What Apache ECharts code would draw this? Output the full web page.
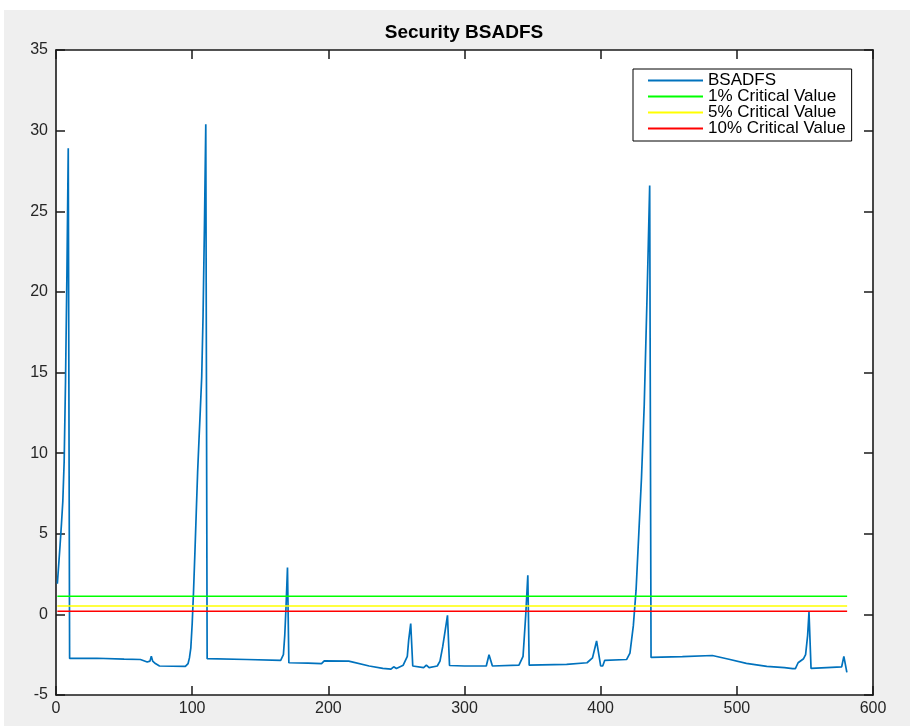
<!DOCTYPE html>
<html>
<head>
<meta charset="utf-8">
<script src="https://cdn.jsdelivr.net/npm/echarts@6/dist/echarts.min.js"></script>
<style>
  html, body { margin: 0; padding: 0; background: #ffffff; }
  #chart { width: 910px; height: 726px; }
</style>
</head>
<body>
<div id="chart"></div>
<script>
// ---- Data ----
const titleText = 'Security BSADFS';
const seriesNames = ['BSADFS', '1% Critical Value', '5% Critical Value', '10% Critical Value'];
const xTicks = [0, 100, 200, 300, 400, 500, 600];
const yTicks = [-5, 0, 5, 10, 15, 20, 25, 30, 35];

const bsadfsX = [
  1, 2, 3, 4, 5, 6, 7, 8, 9, 10,
  30, 50, 62, 67, 69, 70, 71, 73, 76, 95,
  97, 98, 99, 100, 101, 102, 103, 104, 105, 106, 107, 108, 109, 110, 111,
  140, 165, 166, 167, 168, 169, 170, 171,
  185, 195, 197, 215, 230, 240, 246, 248, 250, 255, 258, 259, 260.5, 262,
  270, 272, 274, 280, 282, 284, 286, 287.5, 289,
  300, 316, 318, 319, 320.5, 340, 343, 345, 346.5, 347.5,
  375, 390, 394, 397, 400, 401.5, 403, 419, 421.5, 424, 426, 428, 430, 432, 434, 435, 436, 437,
  460, 482, 495, 507, 522, 535, 541, 543, 545, 549, 550.5, 552, 553, 554.5,
  566, 577, 578.6, 580.8
];
const bsadfsY = [
  1.9, 3.1, 4.3, 5.6, 7.0, 9.5, 14.5, 21, 28.9, -2.73,
  -2.72, -2.78, -2.8, -2.95, -2.9, -2.6, -2.9, -3.05, -3.2, -3.22,
  -3.05, -2.7, -2.1, -0.6, 1.4, 3.8, 6.3, 8.8, 10.8, 12.7, 14.7, 18.5, 24, 30.4, -2.75,
  -2.8, -2.85, -2.8, -2.5, -1.3, 0.6, 2.9, -3.0,
  -3.02, -3.05, -2.88, -2.9, -3.2, -3.35, -3.4, -3.25, -3.35, -3.15, -2.6, -1.6, -0.57, -3.2,
  -3.3, -3.15, -3.3, -3.2, -2.9, -2.0, -0.9, -0.06, -3.17,
  -3.2, -3.2, -2.5, -2.4, -3.2, -3.15, -2.6, 0.0, 2.42, -3.15,
  -3.1, -3.0, -2.7, -1.65, -3.2, -3.2, -2.85, -2.8, -2.4, -0.7, 1.5, 5.0, 8.5, 13, 19.5, 23, 26.6, -2.67,
  -2.62, -2.55, -2.8, -3.04, -3.22, -3.3, -3.36, -3.36, -3.0, -2.75, -2.5, -1.3, 0.14, -3.35,
  -3.3, -3.25, -2.6, -3.6
];

// Critical values (constant over the sample)
const sampleStart = 1;
const sampleEnd = 581;
const cv1 = 1.12;
const cv5 = 0.52;
const cv10 = 0.19;

// ---- Build chart ----
const FONT = 'Liberation Sans, Arial, Helvetica, sans-serif';
const bsadfsData = bsadfsX.map((x, i) => [x, bsadfsY[i]]);
const hline = v => [[sampleStart, v], [sampleEnd, v]];

const axisLineStyle = { color: '#1a1a1a', width: 1.6 };
const baseX = {
  type: 'value', min: xTicks[0], max: xTicks[xTicks.length - 1], interval: 100,
  splitLine: { show: false },
  axisLine: { show: true, onZero: false, lineStyle: axisLineStyle },
  axisTick: { show: true, inside: true, length: 9, lineStyle: { color: '#1a1a1a', width: 1.5 } }
};
const baseY = {
  type: 'value', min: yTicks[0], max: yTicks[yTicks.length - 1], interval: 5,
  splitLine: { show: false },
  axisLine: { show: true, onZero: false, lineStyle: axisLineStyle },
  axisTick: { show: true, inside: true, length: 9, lineStyle: { color: '#1a1a1a', width: 1.5 } }
};

const chart = echarts.init(document.getElementById('chart'), null, { renderer: 'canvas' });
chart.setOption({
  animation: false,
  backgroundColor: '#ffffff',
  grid: { left: 56, right: 37, top: 50, bottom: 31, show: true, backgroundColor: '#ffffff', borderWidth: 0 },
  graphic: [
    { type: 'rect', z: -100, silent: true, shape: { x: 4, y: 10, width: 906, height: 716 },
      style: { fill: '#efefef' } },
    { type: 'text', x: 464, y: 33, z: 10,
      style: { text: titleText, textAlign: 'center', textVerticalAlign: 'middle',
               font: 'bold 19px ' + FONT, fill: '#000000' } }
  ],
  legend: {
    data: seriesNames,
    orient: 'vertical', left: 633, top: 69,
    itemWidth: 55, itemHeight: 15, itemGap: -1,
    padding: [3, 6, 4, 14],
    borderColor: '#000000', borderWidth: 1, backgroundColor: '#ffffff', borderRadius: 0,
    itemStyle: { opacity: 0 },
    textStyle: { fontFamily: FONT, fontSize: 17, lineHeight: 15, color: '#000000' }
  },
  xAxis: [
    Object.assign({}, baseX, { position: 'bottom',
      axisLabel: { show: true, margin: 6, fontFamily: FONT, fontSize: 16, color: '#262626' } }),
    Object.assign({}, baseX, { position: 'top', axisLabel: { show: false } })
  ],
  yAxis: [
    Object.assign({}, baseY, { position: 'left',
      axisLabel: { show: true, margin: 8, fontFamily: FONT, fontSize: 16, color: '#262626' } }),
    Object.assign({}, baseY, { position: 'right', axisLabel: { show: false } })
  ],
  series: [
    { name: seriesNames[0], type: 'line', data: bsadfsData, xAxisIndex: 0, yAxisIndex: 0,
      showSymbol: false, symbol: 'none', lineStyle: { color: '#0072BD', width: 1.7 }, itemStyle: { color: '#0072BD' } },
    { name: seriesNames[1], type: 'line', data: hline(cv1), showSymbol: false, symbol: 'none',
      lineStyle: { color: '#00FF00', width: 1.6 }, itemStyle: { color: '#00FF00' } },
    { name: seriesNames[2], type: 'line', data: hline(cv5), showSymbol: false, symbol: 'none',
      lineStyle: { color: '#FFFF00', width: 1.6 }, itemStyle: { color: '#FFFF00' } },
    { name: seriesNames[3], type: 'line', data: hline(cv10), showSymbol: false, symbol: 'none',
      lineStyle: { color: '#FF0000', width: 1.6 }, itemStyle: { color: '#FF0000' } }
  ]
});
</script>
</body>
</html>
